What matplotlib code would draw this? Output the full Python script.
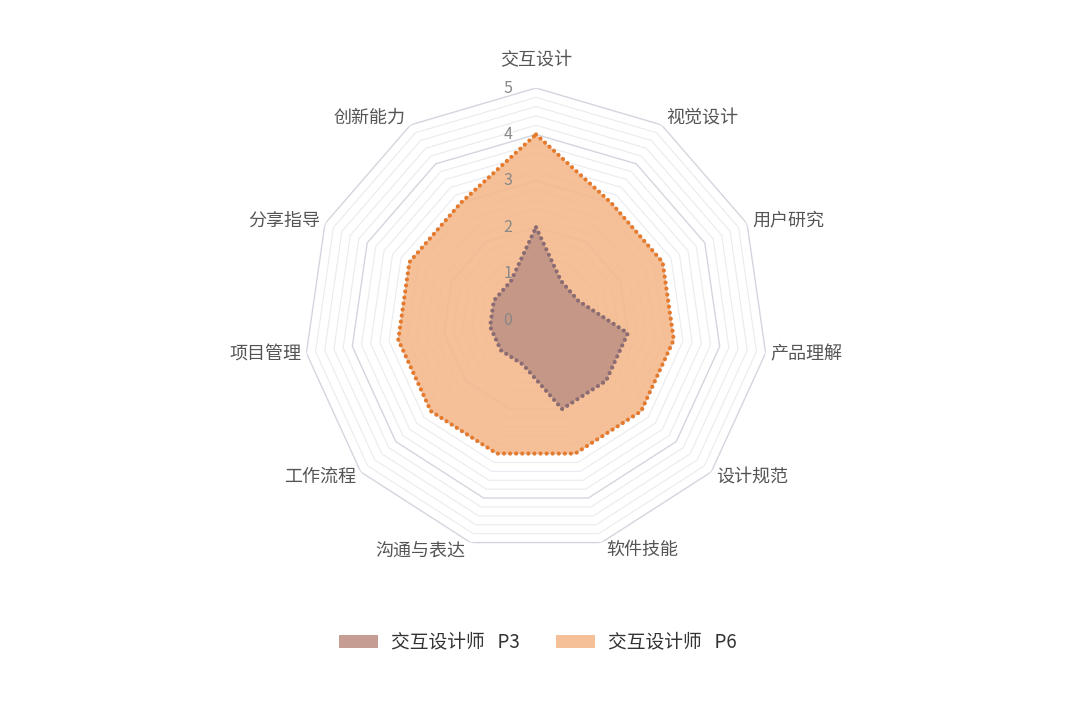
import matplotlib
matplotlib.use('Agg')
import matplotlib.pyplot as plt
from matplotlib.patches import Patch
import numpy as np

plt.rcParams['font.family'] = ['Noto Sans CJK SC', 'DejaVu Sans']

categories = ['交互设计', '视觉设计', '用户研究', '产品理解', '设计规范', '软件技能',
              '沟通与表达', '工作流程', '项目管理', '分享指导', '创新能力']
p3_values = [2, 1, 1, 2, 2, 2, 1, 1, 1, 1, 1]
p6_values = [4, 3, 3, 3, 3, 3, 3, 3, 3, 3, 3]
series_names = ['交互设计师   P3', '交互设计师   P6']
tick_values = [0, 1, 2, 3, 4, 5]

n = len(categories)
theta = np.linspace(0, 2 * np.pi, n, endpoint=False)
theta_closed = np.append(theta, theta[0])

fig = plt.figure(figsize=(10.8, 7.12), dpi=100)
ax = fig.add_axes([0.2815, 0.2247, 0.4296, 0.6517], projection='polar')
ax.set_theta_zero_location('N')
ax.set_theta_direction(-1)
ax.set_ylim(0, 5)
ax.grid(False)
ax.spines['polar'].set_visible(False)
ax.set_xticks([])
ax.set_yticks([])
ax.patch.set_alpha(0)

# grid polygons, every 0.2, integers a bit darker
for r in np.arange(0.2, 5.01, 0.2):
    major = abs(r - round(r)) < 1e-6
    ax.plot(theta_closed, np.full(n + 1, r),
            color='#d3d6de' if major else '#e9ebf0',
            lw=1.0 if major else 0.8, zorder=1)

def closed(v):
    return np.append(v, v[0])

ax.fill(theta_closed, closed(p6_values), color='#f4b98d', alpha=0.9, lw=0, zorder=2)
ax.fill(theta_closed, closed(p3_values), color='#c09386', alpha=0.9, lw=0, zorder=3)
ax.plot(theta_closed, closed(p6_values), color='#e5792c', lw=3.0,
        linestyle=(0, (0.01, 1.45)), dash_capstyle='round', zorder=4)
ax.plot(theta_closed, closed(p3_values), color='#8a6c72', lw=3.0,
        linestyle=(0, (0.01, 1.45)), dash_capstyle='round', zorder=5)

px = 0.72  # points per pixel at dpi 100
for t in tick_values:
    ax.annotate(str(t), xy=(0, t), xytext=(-28 * px, 0), textcoords='offset points',
                ha='center', va='center', fontsize=11.5, color='#888888', zorder=6)

for ang, name in zip(theta, categories):
    s, c = np.sin(ang), np.cos(ang)
    if abs(s) < 0.1:
        ha, dx, dy = 'center', 0, 28 if c > 0 else -28
    else:
        ha = 'left' if s > 0 else 'right'
        dx, dy = 5 * np.sign(s), 8 * c
    ax.annotate(name, xy=(ang, 5), xytext=(dx * px, dy * px), textcoords='offset points',
                ha=ha, va='center', fontsize=13, color='#555555', annotation_clip=False)

handles = [Patch(facecolor='#c09386', alpha=0.9, edgecolor='none'),
           Patch(facecolor='#f4b98d', alpha=0.9, edgecolor='none')]
fig.legend(handles, series_names, loc='center', bbox_to_anchor=(0.498, 0.098), ncol=2,
           frameon=False, fontsize=13.5, handlelength=2.1, handleheight=0.7,
           handletextpad=0.7, columnspacing=1.9, labelcolor='#333333')

fig.savefig('out.png', dpi=100, facecolor='white')
